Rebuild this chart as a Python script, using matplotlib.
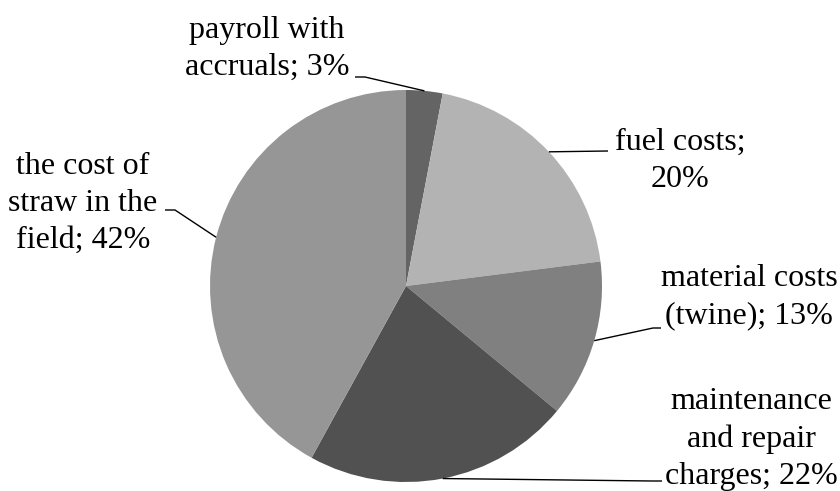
import numpy as np
import matplotlib.pyplot as plt

# cost structure data (percent)
shares = [3, 20, 13, 22, 42]
label_texts = ['payroll with\naccruals; 3%', 'fuel costs;\n20%', 'material costs\n(twine); 13%',
               'maintenance\nand repair\ncharges; 22%', 'the cost of\nstraw in the\nfield; 42%']
colors = ['#646464', '#b3b3b3', '#808080', '#515151', '#969696']

W, H = 840, 491
cx, cy, r = 406, H - 286, 196

# label layout in pixels (top-left origin): text centre x, last-line baseline y, leader elbows
text_pos = [(267, 75), (680, 187), (749, 323), (751, 484), (83, 248)]
elbows = [[(365, 77), (355, 77)],
          [(608, 151)],
          [(653, 328), (661, 328)],
          [(652, 481), (662, 481)],
          [(175, 210), (165, 210)]]

plt.rcParams['font.family'] = ['Liberation Serif', 'DejaVu Serif']

fig = plt.figure(figsize=(W / 100, H / 100), dpi=100)
ax = fig.add_axes([0, 0, 1, 1])
wedges, _ = ax.pie(shares, startangle=90, counterclock=False, colors=colors,
                   center=(cx, cy), radius=r, wedgeprops=dict(linewidth=0))
ax.set_xlim(0, W)
ax.set_ylim(0, H)
ax.set_aspect('equal')
ax.axis('off')

for w, txt, (tx, ty), pts in zip(wedges, label_texts, text_pos, elbows):
    mid = np.deg2rad((w.theta1 + w.theta2) / 2)
    ax_pt = (cx + r * np.cos(mid), cy + r * np.sin(mid))
    xs = [ax_pt[0]] + [p[0] for p in pts]
    ys = [ax_pt[1]] + [H - p[1] for p in pts]
    ax.plot(xs, ys, color='black', lw=1.0, solid_capstyle='butt')
    ax.text(tx, H - ty, txt, ha='center', va='baseline', fontsize=23,
            linespacing=1.37, multialignment='center')

fig.savefig('out.png', dpi=100)
